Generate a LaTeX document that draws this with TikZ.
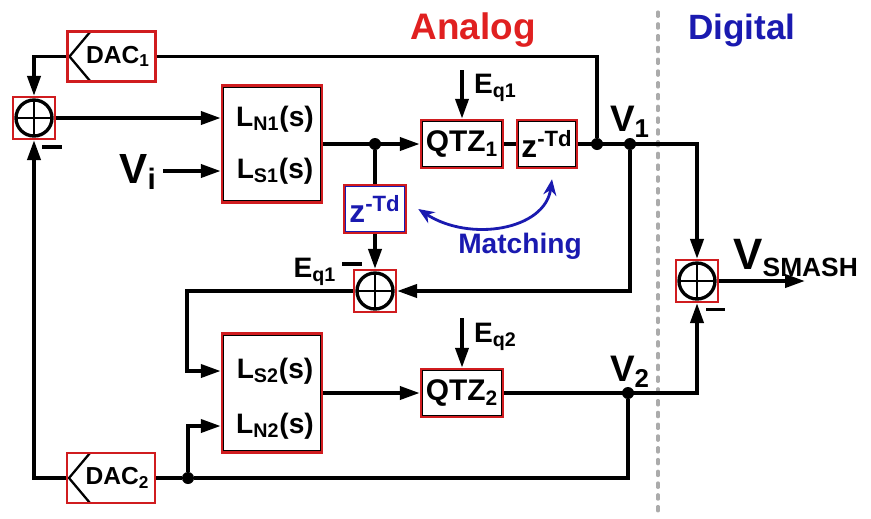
\documentclass[tikz,border=0pt]{standalone}
\usepackage{fontspec}
\setmainfont{Liberation Sans}
\usetikzlibrary{positioning,arrows.meta,calc}
\definecolor{boxred}{HTML}{D01C1F}
\definecolor{anared}{HTML}{E02020}
\definecolor{digblue}{HTML}{1A1AB0}
\definecolor{dotgray}{HTML}{ABABAB}
\newcommand{\fsz}[1]{\fontsize{#1}{#1}\selectfont\bfseries}

\begin{document}
\begin{tikzpicture}[
    wire/.style={line width=2.2pt, line join=miter},
    arr/.style={wire, -{Triangle[length=0.4cm,width=0.26cm]}},
    barr/.style={line width=1.6pt, digblue, {Stealth[length=0.32cm,width=0.26cm]}-{Stealth[length=0.32cm,width=0.26cm]}},
    dot/.style={circle, fill=black, inner sep=0pt, minimum size=0.24cm},
    minus/.style={line width=1.8pt},
    blk/.style={draw=boxred, line width=1.4pt, fill=white, inner sep=0pt,
      path picture={\draw[line width=2.6pt, draw=#1] (path picture bounding box.south west) rectangle (path picture bounding box.north east);}},
    blk/.default=black,
    sumbox/.style={draw=boxred, line width=1.2pt, fill=white, minimum size=0.84cm, inner sep=0pt,
      path picture={
        \draw[black, line width=1.9pt] (path picture bounding box.center) circle (0.36);
        \draw[black, line width=1.1pt] ([yshift=0.36cm]path picture bounding box.center) -- ([yshift=-0.36cm]path picture bounding box.center);
        \draw[black, line width=1.1pt] ([xshift=-0.36cm]path picture bounding box.center) -- ([xshift=0.36cm]path picture bounding box.center);}},
    dacbox/.style={draw=boxred, line width=1.2pt, fill=white, minimum width=1.76cm, minimum height=1.0cm, inner sep=0pt, font=\fsz{14},
      path picture={\draw[black, line width=1.3pt] ([xshift=0.46cm]path picture bounding box.north west) -- ([xshift=0.04cm]path picture bounding box.west) -- ([xshift=0.46cm]path picture bounding box.south west);}}
  ]
    \useasboundingbox (0,0) rectangle (17.42,-10.36);

    % Analog / digital split
    \draw[dotgray, line width=1.8pt, dash pattern=on 2.5pt off 4.2pt, line cap=round] (13.16,-0.24) -- (13.16,-10.3);
    \node[font=\fsz{21}, text=anared] (analog) at (9.46,-0.6) {Analog};
    \node[font=\fsz{20}, text=digblue] (digital) at (14.84,-0.6) {Digital};

    % First stage
    \node[sumbox] (sum1) at (0.68,-2.36) {};
    \node[blk, minimum width=2.0cm, minimum height=2.34cm] (l1) at (5.44,-2.88) {};
    \node[font=\fsz{16}] (ln1) at (5.5,-2.38) {L\textsubscript{N1}(s)};
    \node[font=\fsz{16}] (ls1) at (5.5,-3.42) {L\textsubscript{S1}(s)};
    \node[font=\fsz{24}, anchor=east] (vi) at (3.26,-3.44) {V\textsubscript{i}};
    \node[blk, minimum width=1.64cm, minimum height=0.96cm, font=\fsz{17}] (qtz1) at (9.24,-2.88) {QTZ\textsubscript{1}};
    \node[blk, minimum width=1.2cm, minimum height=0.96cm, font=\fsz{18}] (zd1) at (10.94,-2.88) {z\textsuperscript{-Td}};
    \node[dacbox] (dac1) at (2.23,-1.13) {\hspace{0.26cm}DAC\textsubscript{1}};
    \coordinate (eq1top) at (9.24,-1.40);
    \node[font=\fsz{16}, anchor=west] (eq1) at (9.36,-1.76) {E\textsubscript{q1}};
    \node[dot] (j1) at (7.5,-2.88) {};
    \node[dot] (fb1) at (11.94,-2.88) {};
    \node[dot] (v1dot) at (12.6,-2.88) {};
    \node[font=\fsz{21}] (v1) at (12.6,-2.44) {V\textsubscript{1}};

    % Matching delay and error extraction
    \node[blk=digblue, minimum width=1.24cm, minimum height=0.96cm, font=\fsz{18}, text=digblue] (zd2) at (7.5,-4.18) {z\textsuperscript{-Td}};
    \node[sumbox] (sum2) at (7.5,-5.82) {};
    \node[font=\fsz{16}] (eq1b) at (6.3,-5.44) {E\textsubscript{q1}};
    \coordinate (c2) at (3.74,-5.82);
    \node[font=\fsz{16}, text=digblue] (match) at (10.4,-4.92) {Matching};

    % Second stage
    \node[blk, minimum width=2.0cm, minimum height=2.38cm] (l2) at (5.44,-7.86) {};
    \node[font=\fsz{16}] (ls2) at (5.5,-7.42) {L\textsubscript{S2}(s)};
    \node[font=\fsz{16}] (ln2) at (5.5,-8.52) {L\textsubscript{N2}(s)};
    \node[blk, minimum width=1.64cm, minimum height=0.96cm, font=\fsz{17}] (qtz2) at (9.24,-7.86) {QTZ\textsubscript{2}};
    \coordinate (eq2top) at (9.24,-6.36);
    \node[font=\fsz{16}, anchor=west] (eq2) at (9.36,-6.74) {E\textsubscript{q2}};
    \node[dot] (v2dot) at (12.56,-7.86) {};
    \node[font=\fsz{21}] (v2) at (12.6,-7.44) {V\textsubscript{2}};
    \node[dot] (bdot) at (3.76,-9.56) {};
    \node[dacbox] (dac2) at (2.22,-9.56) {\hspace{0.26cm}DAC\textsubscript{2}};

    % Output combiner
    \node[sumbox] (sum3) at (13.94,-5.62) {};
    \coordinate (out) at (16.1,-5.62);
    \node[font=\fsz{25}, anchor=west, inner sep=0pt] (vsm) at (14.66,-5.16) {V\textsubscript{\fsz{15}SMASH}};

    % Wires of the first loop
    \draw[arr] (dac1.west) -| (sum1.north);
    \draw[arr] (sum1.east) -- (sum1.east -| l1.west);
    \draw[arr] (vi.east |- ls1) -- (ls1 -| l1.west);
    \draw[arr] (l1.east) -- (qtz1.west);
    \draw[arr] (eq1top) -- (qtz1.north);
    \draw[wire] (qtz1.east) -- (zd1.west);
    \draw[arr] (zd1.east) -| (sum3.north);
    \draw[wire] (dac1.east) -| (fb1);

    % Wires of the error path
    \draw[wire] (j1) -- (zd2.north);
    \draw[arr] (zd2.south) -- (sum2.north);
    \draw[arr] (v1dot) |- (sum2.east);
    \draw[arr] (sum2.west) -- (c2) |- (ls2 -| l2.west);
    \draw[barr] ([xshift=0.1cm,yshift=-0.2cm]zd1.south) .. controls (10.9,-4.6) and (9.4,-4.85) .. ([xshift=0.22cm]zd2.east);

    % Wires of the second loop
    \draw[arr] (l2.east) -- (qtz2.west);
    \draw[arr] (eq2top) -- (qtz2.north);
    \draw[arr] (qtz2.east) -| (sum3.south);
    \draw[wire] (v2dot) |- (bdot) -- (dac2.east);
    \draw[arr] (bdot) |- (ln2 -| l2.west);
    \draw[arr] (dac2.west) -| (sum1.south);
    \draw[arr] (sum3.east) -- (out);

    % Minus signs
    \draw[minus] ([xshift=0.16cm,yshift=-0.14cm]sum1.south) -- ++(0.4,0);
    \draw[minus] ([xshift=-0.66cm,yshift=0.1cm]sum2.north) -- ++(0.4,0);
    \draw[minus] ([xshift=0.18cm,yshift=-0.13cm]sum3.south) -- ++(0.38,0);
  \end{tikzpicture}
\end{document}
